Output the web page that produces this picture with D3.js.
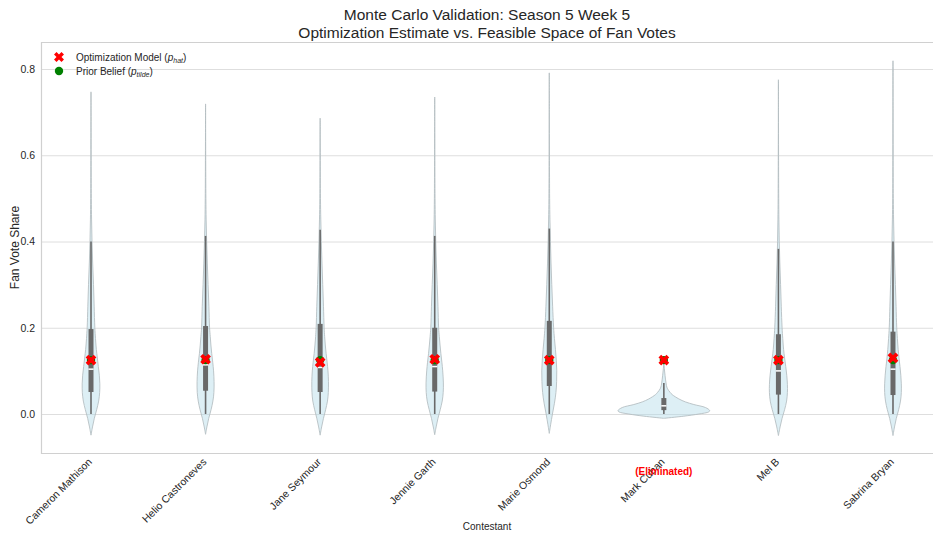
<!DOCTYPE html>
<html>
<head>
<meta charset="utf-8">
<script src="https://cdn.jsdelivr.net/npm/d3@7/dist/d3.min.js"></script>
<style>
  html, body { margin: 0; padding: 0; background: #fff; }
  svg { display: block; font-family: "Liberation Sans", Arial, sans-serif; }
</style>
</head>
<body>
<svg id="chart" width="933" height="533"></svg>
<script>
// ---- Data -------------------------------------------------------------
const contestants = ["Cameron Mathison", "Helio Castroneves", "Jane Seymour", "Jennie Garth",
                     "Marie Osmond", "Mark Cuban", "Mel B", "Sabrina Bryan"];
const eliminated = ["Mark Cuban"];

// optimisation estimate (p_hat) and prior belief (p_tilde) per contestant
const pHat   = [0.125, 0.127, 0.120, 0.127, 0.125, 0.125, 0.125, 0.130];
const pTilde = [0.125, 0.125, 0.125, 0.125, 0.125, 0.125, 0.125, 0.125];

// box summary of the simulated feasible fan-vote shares
const whiskerLow  = [0.000, 0.000, 0.000, 0.000, 0.000, 0.000, 0.000, 0.000];
const q1          = [0.051, 0.054, 0.051, 0.052, 0.065, 0.009, 0.045, 0.044];
const median      = [0.104, 0.114, 0.108, 0.110, 0.120, 0.019, 0.100, 0.104];
const q3          = [0.197, 0.204, 0.209, 0.200, 0.216, 0.037, 0.185, 0.191];
const whiskerHigh = [0.400, 0.413, 0.427, 0.413, 0.430, 0.072, 0.383, 0.400];

// kernel density profiles: [share, density]
const densityCameron = [[-0.049,0],[-0.03,0.9],[-0.01,2.0],[0.01,3.4],[0.03,4.6],[0.05,5.2],[0.07,5.3],[0.09,5.0],[0.11,4.4],[0.13,3.8],[0.15,3.2],[0.175,2.7],[0.2,2.3],[0.25,1.9],[0.3,1.5],[0.35,1.0],[0.4,0.6],[0.45,0.35],[0.5,0.2],[0.6,0.1],[0.7,0.04],[0.747,0]];
const densityHelio   = [[-0.047,0],[-0.03,0.8],[-0.01,1.9],[0.01,3.3],[0.03,4.4],[0.05,5.0],[0.075,5.1],[0.1,4.8],[0.12,4.3],[0.14,3.7],[0.16,3.2],[0.18,2.8],[0.2,2.4],[0.25,2.0],[0.3,1.5],[0.35,1.05],[0.4,0.65],[0.45,0.35],[0.5,0.2],[0.6,0.08],[0.68,0.03],[0.719,0]];
const densityJane    = [[-0.049,0],[-0.03,0.9],[-0.01,2.0],[0.01,3.3],[0.03,4.4],[0.05,4.9],[0.075,5.0],[0.1,4.7],[0.12,4.2],[0.14,3.6],[0.16,3.1],[0.18,2.7],[0.2,2.4],[0.25,2.0],[0.3,1.55],[0.35,1.1],[0.4,0.7],[0.45,0.4],[0.5,0.2],[0.6,0.07],[0.686,0]];
const densityJennie  = [[-0.048,0],[-0.03,0.85],[-0.01,1.95],[0.01,3.3],[0.03,4.5],[0.05,5.1],[0.072,5.2],[0.1,4.8],[0.12,4.3],[0.14,3.7],[0.16,3.2],[0.18,2.75],[0.2,2.35],[0.25,1.95],[0.3,1.5],[0.35,1.0],[0.4,0.62],[0.45,0.35],[0.5,0.2],[0.6,0.09],[0.7,0.03],[0.735,0]];
const densityMarie   = [[-0.045,0],[-0.025,0.8],[0,1.9],[0.025,3.1],[0.05,4.0],[0.075,4.4],[0.1,4.5],[0.125,4.2],[0.15,3.7],[0.175,3.1],[0.2,2.6],[0.25,2.0],[0.3,1.5],[0.35,1.05],[0.4,0.7],[0.45,0.4],[0.5,0.22],[0.6,0.1],[0.7,0.04],[0.791,0]];
const densityMark    = [[-0.010,0],[-0.005,12],[0.0,21],[0.005,27],[0.008,27.5],[0.015,25],[0.022,18],[0.028,13],[0.035,9],[0.045,5],[0.05,3.8],[0.06,2.0],[0.072,1.3],[0.09,0.7],[0.105,0.3],[0.118,0]];
const densityMel     = [[-0.05,0],[-0.03,1.0],[-0.01,2.2],[0.01,3.7],[0.03,4.9],[0.05,5.4],[0.068,5.4],[0.09,5.0],[0.11,4.4],[0.13,3.7],[0.15,3.1],[0.175,2.6],[0.2,2.2],[0.25,1.7],[0.3,1.3],[0.35,0.85],[0.4,0.5],[0.45,0.3],[0.5,0.18],[0.6,0.09],[0.7,0.04],[0.775,0]];
const densitySabrina = [[-0.05,0],[-0.03,0.9],[-0.01,2.0],[0.01,3.4],[0.03,4.5],[0.05,5.0],[0.07,5.0],[0.09,4.7],[0.11,4.2],[0.13,3.6],[0.15,3.1],[0.175,2.65],[0.2,2.25],[0.25,1.85],[0.3,1.45],[0.35,1.0],[0.4,0.62],[0.45,0.36],[0.5,0.2],[0.6,0.1],[0.7,0.05],[0.819,0]];
const densities = [densityCameron, densityHelio, densityJane, densityJennie,
                   densityMarie, densityMark, densityMel, densitySabrina];

const yTicks = [0.0, 0.2, 0.4, 0.6, 0.8];

// ---- Layout -----------------------------------------------------------
const svg = d3.select("#chart");
const plot = { left: 41, right: 933, top: 42, bottom: 453 };
const step = 114.57;

const x = d3.scalePoint()
  .domain(contestants)
  .range([plot.left + 50, plot.left + 50 + step * (contestants.length - 1)]);

const y = d3.scaleLinear()
  .domain([-0.0904, 0.8626])
  .range([plot.bottom, plot.top]);

const maxDensity = d3.max(densities, d => d3.max(d, p => p[1]));
const w = d3.scaleLinear().domain([0, maxDensity]).range([0, step * 0.4]);

svg.append("clipPath").attr("id", "plotClip")
  .append("rect")
  .attr("x", plot.left).attr("y", plot.top)
  .attr("width", plot.right - plot.left).attr("height", plot.bottom - plot.top);

// grid
const yAxis = d3.axisLeft(y).tickValues(yTicks).tickFormat(d3.format(".1f"))
  .tickSize(-(plot.right - plot.left)).tickPadding(6);
const gy = svg.append("g").attr("transform", `translate(${plot.left},0)`).call(yAxis);
gy.select(".domain").remove();
gy.selectAll(".tick line").attr("stroke", "#dedede").attr("stroke-width", 1);
gy.selectAll(".tick text").attr("fill", "#262626").attr("font-size", 10.5)
  .attr("font-family", "Liberation Sans, Arial, sans-serif");

// frame
svg.append("path")
  .attr("d", `M${plot.right + 0.5},${plot.top + 0.5}H${plot.left + 0.5}V${plot.bottom + 0.5}H${plot.right + 0.5}`)
  .attr("fill", "none").attr("stroke", "#d0d0d0").attr("stroke-width", 1.2);

const g = svg.append("g").attr("clip-path", "url(#plotClip)");

// violins
contestants.forEach((name, i) => {
  const cx = x(name);
  const area = d3.area()
    .y(d => y(d[0]))
    .x0(d => cx - w(d[1]))
    .x1(d => cx + w(d[1]))
    .curve(d3.curveCatmullRom.alpha(0.5));
  g.append("path")
    .attr("d", area(densities[i]))
    .attr("fill", "#add8e6").attr("fill-opacity", 0.42)
    .attr("stroke", "#b3bcc0").attr("stroke-opacity", 0.85).attr("stroke-width", 1);

  // whisker
  g.append("line")
    .attr("x1", cx).attr("x2", cx)
    .attr("y1", y(whiskerLow[i])).attr("y2", y(whiskerHigh[i]))
    .attr("stroke", "#696969").attr("stroke-width", 1.6);
  // interquartile box
  g.append("line")
    .attr("x1", cx).attr("x2", cx)
    .attr("y1", y(q1[i])).attr("y2", y(q3[i]))
    .attr("stroke", "#696969").attr("stroke-width", 5);
  // median
  g.append("line")
    .attr("x1", cx - 2.6).attr("x2", cx + 2.6)
    .attr("y1", y(median[i])).attr("y2", y(median[i]))
    .attr("stroke", "#ffffff").attr("stroke-width", 1.5);
});

// markers
const xSymbol = d3.symbol().type(d3.symbolCross).size(72);
contestants.forEach((name, i) => {
  g.append("circle")
    .attr("cx", x(name)).attr("cy", y(pTilde[i])).attr("r", 4.2)
    .attr("fill", "#008000");
  g.append("path")
    .attr("d", xSymbol())
    .attr("transform", `translate(${x(name)},${y(pHat[i])}) rotate(45)`)
    .attr("fill", "#ff0000");
});

// x tick labels
contestants.forEach(name => {
  svg.append("text")
    .attr("transform", `translate(${x(name) - 1},${plot.bottom + 7}) rotate(-45)`)
    .attr("text-anchor", "end").attr("dy", "0.35em")
    .attr("font-size", 10.5).attr("fill", "#262626")
    .text(name);
});

// eliminated tag
eliminated.forEach(name => {
  svg.append("text")
    .attr("x", x(name)).attr("y", plot.bottom + 22)
    .attr("text-anchor", "middle")
    .attr("font-size", 10).attr("font-weight", "bold").attr("fill", "#ff0000")
    .text("(Eliminated)");
});

// axis labels
svg.append("text")
  .attr("x", (plot.left + plot.right) / 2).attr("y", 530)
  .attr("text-anchor", "middle").attr("font-size", 10).attr("fill", "#262626")
  .text("Contestant");
svg.append("text")
  .attr("transform", `translate(19,${(plot.top + plot.bottom) / 2}) rotate(-90)`)
  .attr("text-anchor", "middle").attr("font-size", 12).attr("fill", "#262626")
  .text("Fan Vote Share");

// title
const title = svg.append("text").attr("text-anchor", "middle")
  .attr("font-size", 15.5).attr("fill", "#262626");
title.append("tspan").attr("x", (plot.left + plot.right) / 2).attr("y", 20)
  .text("Monte Carlo Validation: Season 5 Week 5");
title.append("tspan").attr("x", (plot.left + plot.right) / 2).attr("y", 38)
  .text("Optimization Estimate vs. Feasible Space of Fan Votes");

// legend
const legend = svg.append("g").attr("transform", "translate(59,57)");
legend.append("path").attr("d", d3.symbol().type(d3.symbolCross).size(62)())
  .attr("transform", "rotate(45)").attr("fill", "#ff0000");
legend.append("circle").attr("cx", 0).attr("cy", 14).attr("r", 4.2).attr("fill", "#008000");

function legendLabel(yPos, label, sub) {
  const t = legend.append("text").attr("x", 17).attr("y", yPos).attr("dy", "0.35em")
    .attr("font-size", 10).attr("fill", "#262626");
  t.append("tspan").text(label + " (");
  t.append("tspan").attr("font-style", "italic").text("p");
  t.append("tspan").attr("font-style", "italic").attr("font-size", 7)
    .attr("baseline-shift", "-25%").text(sub);
  t.append("tspan").text(")");
}
legendLabel(0, "Optimization Model", "hat");
legendLabel(14, "Prior Belief", "tilde");
</script>
</body>
</html>
